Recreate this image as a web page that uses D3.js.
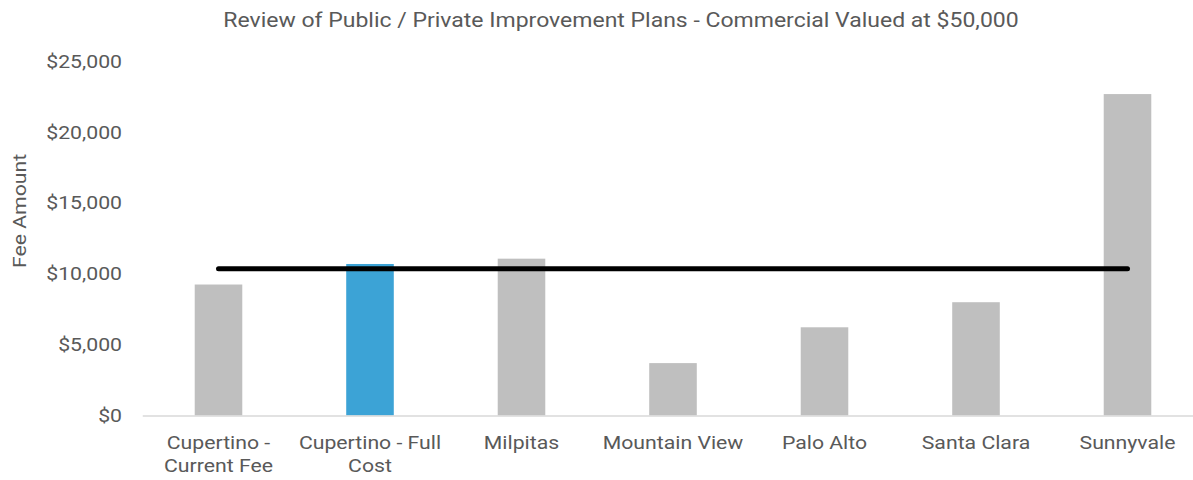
<!DOCTYPE html>
<html>
<head>
<meta charset="utf-8">
<script src="https://cdn.jsdelivr.net/npm/d3@7"></script>
<style>
  body { margin: 0; background: #fff; }
  text { font-family: Roboto, sans-serif; fill: #595959; }
</style>
</head>
<body>
<div id="chart"></div>
<script>
// chart data
var cities = ["Cupertino - Current Fee", "Cupertino - Full Cost", "Milpitas", "Mountain View", "Palo Alto", "Santa Clara", "Sunnyvale"]
var labelLines = [["Cupertino -", "Current Fee"], ["Cupertino - Full", "Cost"], ["Milpitas"], ["Mountain View"], ["Palo Alto"], ["Santa Clara"], ["Sunnyvale"]]
var fees = [9250, 10700, 11075, 3700, 6230, 8000, 22700]
var average = 10370
var highlight = "Cupertino - Full Cost"
var yTicks = [0, 5000, 10000, 15000, 20000, 25000]

var width = 1193, height = 480
// the source text is drawn a little wide
var sx = 1.18

var svg = d3.select("#chart").append("svg")
    .attr("width", width)
    .attr("height", height)

var x = d3.scaleBand()
    .domain(cities)
    .range([142.75, 1203.25])
    .paddingInner(0.686)
    .paddingOuter(0.343)

var y = d3.scaleLinear()
    .domain([0, 25000])
    .range([415.5, 61.5])

var fmt = d3.format("$,")

// y tick labels (no gridlines)
svg.append("g")
    .selectAll("text")
    .data(yTicks)
    .enter().append("text")
    .attr("transform", d => `translate(122,${y(d)}) scale(${sx},1)`)
    .attr("dy", "0.35em")
    .attr("text-anchor", "end")
    .attr("font-size", 18)
    .text(d => fmt(d))

// bars
svg.append("g")
    .selectAll("rect")
    .data(cities)
    .enter().append("rect")
    .attr("x", d => x(d))
    .attr("width", x.bandwidth())
    .attr("y", (d, i) => y(fees[i]))
    .attr("height", (d, i) => y(0) - y(fees[i]))
    .attr("fill", d => d == highlight ? "#3ca3d6" : "#bfbfbf")

// baseline
svg.append("line")
    .attr("x1", x.range()[0])
    .attr("x2", x.range()[1])
    .attr("y1", y(0) + 0.5)
    .attr("y2", y(0) + 0.5)
    .attr("stroke", "#d9d9d9")
    .attr("stroke-width", 1.5)

// average line across bar centres
var c = d => x(d) + x.bandwidth() / 2
svg.append("line")
    .attr("x1", c(cities[0]))
    .attr("x2", c(cities[cities.length - 1]))
    .attr("y1", y(average))
    .attr("y2", y(average))
    .attr("stroke", "#000")
    .attr("stroke-width", 5)
    .attr("stroke-linecap", "round")

// category labels
var cat = svg.append("g")
    .selectAll("text")
    .data(cities)
    .enter().append("text")
    .attr("text-anchor", "middle")
    .attr("font-size", 18)
    .attr("transform", d => `translate(${c(d)},449) scale(${sx},1)`)
cat.selectAll("tspan")
    .data((d, i) => labelLines[i])
    .enter().append("tspan")
    .attr("x", 0)
    .attr("y", (d, i) => i * 23)
    .text(d => d)

// axis title
svg.append("text")
    .attr("transform", `translate(26,211) rotate(-90) scale(${sx},1)`)
    .attr("text-anchor", "middle")
    .attr("font-size", 18)
    .text("Fee Amount")

// chart title
svg.append("text")
    .attr("transform", `translate(621,27) scale(${sx},1)`)
    .attr("text-anchor", "middle")
    .attr("font-size", 19.5)
    .text("Review of Public / Private Improvement Plans - Commercial Valued at $50,000")
</script>
</body>
</html>
